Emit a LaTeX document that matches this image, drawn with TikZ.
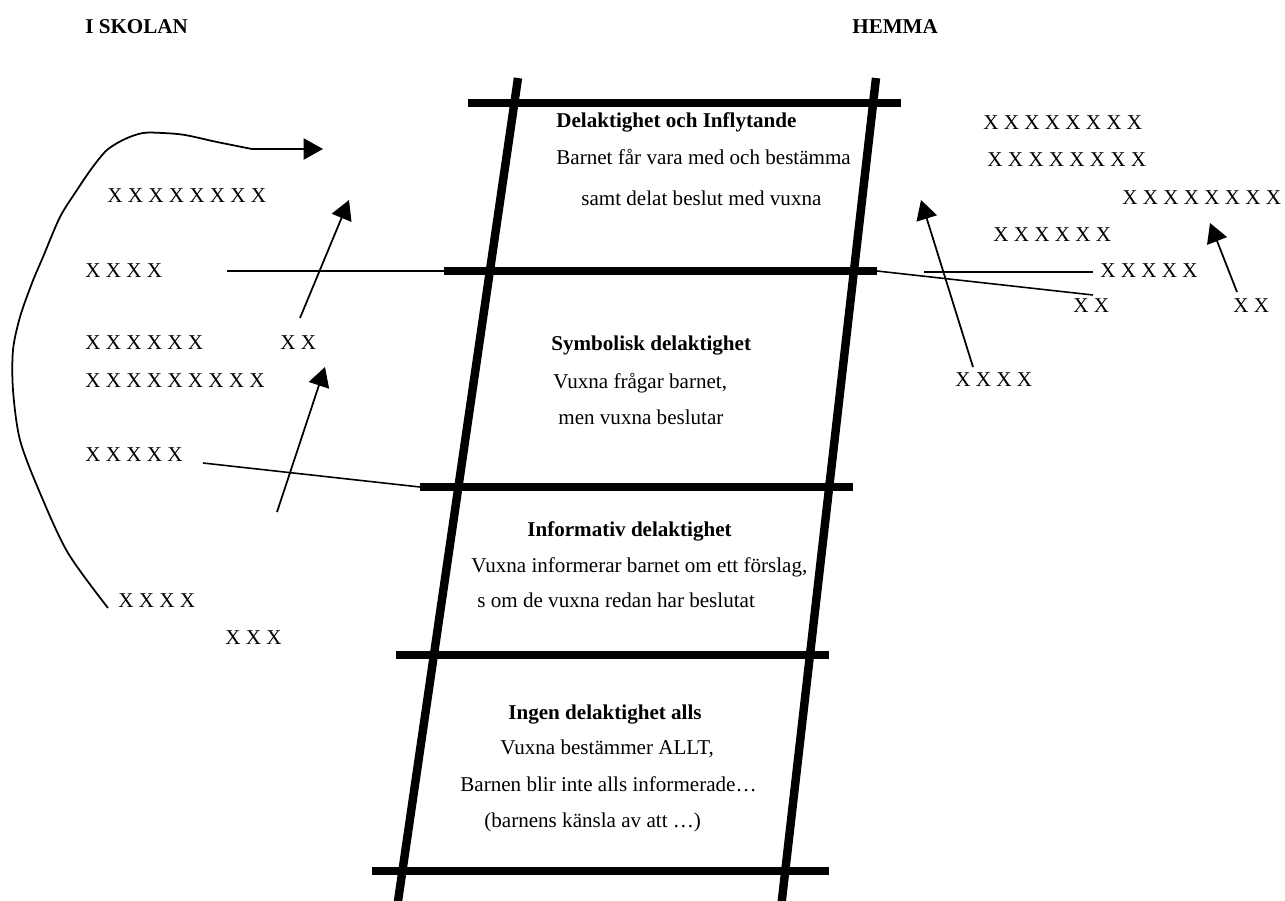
\documentclass[tikz,border=0pt]{standalone}
\usepackage{fontspec}
\setmainfont{Liberation Serif}
\usetikzlibrary{arrows.meta,positioning}
\tikzset{
  rail/.style={line width=4.8pt},
  rung/.style={line width=5pt},
  linje/.style={line width=0.9pt},
  pil/.style={line width=1pt,-{Triangle[length=11pt,width=12pt]}},
  txt/.style={anchor=base west,inner sep=0pt,font=\fontsize{12}{14}\selectfont},
  rubrik/.style={txt,font=\fontsize{12}{14}\selectfont\bfseries}
}
\begin{document}
\begin{tikzpicture}[x={(0.02cm,0cm)},y={(0cm,-0.02cm)}]
  \useasboundingbox (0,0) rectangle (1285,900);

  \node[rubrik] (skolan) at (85,33) {I SKOLAN};
  \node[rubrik] (hemma) at (852,33) {HEMMA};

  % stegen
  \draw[rail] (518,78) -- (397,908);
  \draw[rail] (876,78) -- (781,908);
  \foreach \y/\l/\r [count=\i] in {103/468/901, 271/444/877, 487/420/853, 655/396/829, 871/372/829} {
    \draw[rung] (\l,\y) coordinate (steg\i-v) -- (\r,\y) coordinate (steg\i-h);
  }

  \node[rubrik] (niva1) at (556,127) {Delaktighet och Inflytande};
  \node[txt] (niva1a) at (556,164) {Barnet får vara med och bestämma};
  \node[txt] (niva1b) at (581,205) {samt delat beslut med vuxna};

  \node[rubrik] (niva2) at (551,350) {Symbolisk delaktighet};
  \node[txt] (niva2a) at (553,388) {Vuxna frågar barnet,};
  \node[txt] (niva2b) at (558,424) {men vuxna beslutar};

  \node[rubrik] (niva3) at (527,536) {Informativ delaktighet};
  \node[txt] (niva3a) at (471,572) {Vuxna informerar barnet om ett förslag,};
  \node[txt] (niva3b) at (477,607) {s om de vuxna redan har beslutat};

  \node[rubrik] (niva4) at (508,719) {Ingen delaktighet alls};
  \node[txt] (niva4a) at (500,754) {Vuxna bestämmer ALLT,};
  \node[txt] (niva4b) at (460,791) {Barnen blir inte alls informerade…};
  \node[txt] (niva4c) at (484,827) {(barnens känsla av att …)};

  % i skolan
  \node[txt] (s1) at (107,202) {X X X X X X X X};
  \node[txt] (s2) at (85,277) {X X X X};
  \node[txt] (s3) at (85,349) {X X X X X X};
  \node[txt] (s4) at (280,349) {X X};
  \node[txt] (s5) at (85,387) {X X X X X X X X X};
  \node[txt] (s6) at (85,461) {X X X X X};
  \node[txt] (s7) at (118,607) {X X X X};
  \node[txt] (s8) at (225,644) {X X X};

  % hemma
  \node[txt] (h1) at (983,129) {X X X X X X X X};
  \node[txt] (h2) at (987,166) {X X X X X X X X};
  \node[txt] (h3) at (1122,204) {X X X X X X X X};
  \node[txt] (h4) at (993,241) {X X X X X X};
  \node[txt] (h5) at (1100,277) {X X X X X};
  \node[txt] (h6) at (1073,312) {X X};
  \node[txt] (h7) at (1233,312) {X X};
  \node[txt] (h8) at (955,386) {X X X X};

  \coordinate (s2-ut) at (227,271);
  \coordinate (s6-ut) at (203,463);
  \coordinate (h5-in) at (924,272);
  \coordinate (h5-ut) at (1093,272);
  \coordinate (h6-ut) at (1093,295);
  \draw[linje] (s2-ut) -- (steg2-v);
  \draw[linje] (s6-ut) -- (steg3-v);
  \draw[linje] (h5-in) -- (h5-ut);
  \draw[linje] (steg2-h) -- (h6-ut);

  \coordinate (s4-pil) at (300,318);
  \coordinate (s4-mal) at (349,200);
  \coordinate (s6-pil) at (277,512);
  \coordinate (s6-mal) at (325,367);
  \coordinate (h8-pil) at (973,367);
  \coordinate (h8-mal) at (921,200);
  \coordinate (h7-pil) at (1237,292);
  \coordinate (h7-mal) at (1210,223);
  \coordinate (kurva-mal) at (323,149);
  \draw[pil] (s4-pil) -- (s4-mal);
  \draw[pil] (s6-pil) -- (s6-mal);
  \draw[pil] (h8-pil) -- (h8-mal);
  \draw[pil] (h7-pil) -- (h7-mal);
  \draw[pil] plot[smooth,tension=0.5] coordinates {(108,608) (68,553) (40,493) (20,440) (13,390) (13,350) (20,317) (32,283) (43,257) (60,217) (77,190) (92,168) (107,150) (125,139) (143,133) (163,133) (185,135) (217,142) (252,149)} -- (kurva-mal);
\end{tikzpicture}
\end{document}
